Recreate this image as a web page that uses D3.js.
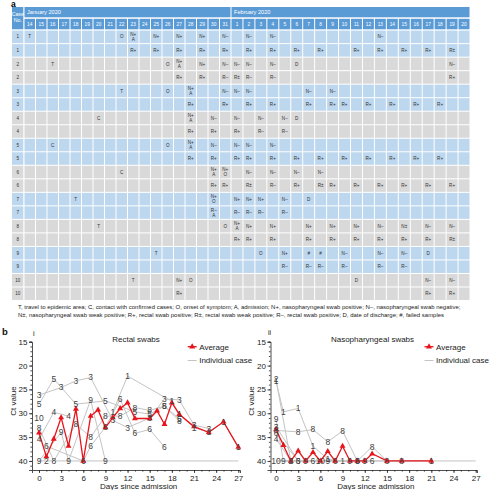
<!DOCTYPE html>
<html><head><meta charset="utf-8">
<script src="https://cdn.jsdelivr.net/npm/d3@7"></script>
<style>body{margin:0;background:#fff}svg{display:block;font-family:"Liberation Sans",Arial,sans-serif}</style>
</head><body><svg id="c" width="490" height="490"></svg>
<script>
// ---------- DATA ----------
const janDays = [14,15,16,17,18,19,20,21,22,23,24,25,26,27,28,29,30,31];
const febDays = [1,2,3,4,5,6,7,8,9,10,11,12,13,14,15,16,17,18,19,20];
const monthLabels = ["January 2020","February 2020"];
const caseRows = [1,1,2,2,3,3,4,4,5,5,6,6,7,7,8,8,9,9,10,10];
// [row, date, text]  (J = January, F = February; "|" = second line)
const cellMarks = [
 [0,"J14","T"],[0,"J22","O"],[0,"J23","N+|A"],[0,"J25","N+"],[0,"J27","N+"],[0,"J29","N+"],[0,"J31","N–"],[0,"F2","N–"],[0,"F4","N–"],[0,"F13","N–"],
 [1,"J23","R+"],[1,"J25","R+"],[1,"J27","R+"],[1,"J29","R+"],[1,"J31","R+"],[1,"F2","R+"],[1,"F4","R+"],[1,"F6","R+"],[1,"F8","R+"],[1,"F11","R+"],[1,"F13","R+"],[1,"F15","R+"],[1,"F17","R+"],[1,"F19","R±"],
 [2,"J16","T"],[2,"J26","O"],[2,"J27","N+|A"],[2,"J29","N+"],[2,"J31","N–"],[2,"F1","N–"],[2,"F2","N–"],[2,"F4","N–"],[2,"F6","D"],[2,"F19","N–"],
 [3,"J27","R+"],[3,"J29","R+"],[3,"J31","R–"],[3,"F1","R±"],[3,"F2","R–"],[3,"F4","R–"],[3,"F19","R+"],
 [4,"J22","T"],[4,"J26","O"],[4,"J28","N+|A"],[4,"J31","N–"],[4,"F1","N–"],[4,"F2","N–"],[4,"F7","N–"],[4,"F9","N–"],
 [5,"J28","R+"],[5,"J31","R+"],[5,"F2","R+"],[5,"F4","R+"],[5,"F7","R+"],[5,"F9","R+"],[5,"F10","R+"],[5,"F12","R+"],[5,"F14","R+"],[5,"F16","R+"],[5,"F18","R+"],
 [6,"J20","C"],[6,"J28","N+|A"],[6,"J30","N–"],[6,"F1","N–"],[6,"F3","N–"],[6,"F5","N–"],[6,"F6","D"],
 [7,"J28","R+"],[7,"J30","R+"],[7,"F1","R+"],[7,"F3","R–"],[7,"F5","R–"],
 [8,"J16","C"],[8,"J26","O"],[8,"J28","N+|A"],[8,"J30","N–"],[8,"F1","N–"],[8,"F2","N–"],[8,"F4","N–"],
 [9,"J28","R+"],[9,"J30","R+"],[9,"F1","R+"],[9,"F2","R+"],[9,"F4","R+"],[9,"F6","R+"],[9,"F8","R+"],[9,"F10","R+"],[9,"F12","R+"],[9,"F14","R+"],[9,"F16","R+"],[9,"F18","R+"],
 [10,"J22","C"],[10,"J30","N+|A"],[10,"J31","N+|O"],[10,"F2","N–"],[10,"F4","N–"],[10,"F6","N–"],[10,"F8","N–"],
 [11,"J30","R+"],[11,"J31","R+"],[11,"F2","R±"],[11,"F4","R–"],[11,"F6","R+"],[11,"F8","R±"],[11,"F9","R+"],[11,"F11","R+"],[11,"F13","R+"],[11,"F15","R+"],[11,"F17","R+"],[11,"F19","R+"],
 [12,"J18","T"],[12,"J30","N+|O"],[12,"F1","N+"],[12,"F2","N+"],[12,"F3","N+"],[12,"F5","N–"],[12,"F7","D"],
 [13,"J30","R–|A"],[13,"F1","R–"],[13,"F2","R–"],[13,"F3","R–"],[13,"F5","R–"],
 [14,"J20","T"],[14,"J31","O"],[14,"F1","N+|A"],[14,"F2","N+"],[14,"F4","N+"],[14,"F7","N+"],[14,"F9","N+"],[14,"F11","N+"],[14,"F13","N–"],[14,"F15","N±"],[14,"F17","N–"],[14,"F19","N–"],
 [15,"F1","R+"],[15,"F2","R+"],[15,"F4","R+"],[15,"F7","R+"],[15,"F9","R+"],[15,"F11","R+"],[15,"F13","R+"],[15,"F15","R+"],[15,"F17","R+"],[15,"F19","R±"],
 [16,"J25","T"],[16,"F3","O"],[16,"F5","N+"],[16,"F7","#"],[16,"F8","#"],[16,"F10","N–"],[16,"F13","N–"],[16,"F15","N–"],[16,"F17","D"],
 [17,"F5","R–"],[17,"F7","R–"],[17,"F8","R–"],[17,"F10","R–"],[17,"F13","R–"],[17,"F15","R–"],
 [18,"J23","T"],[18,"J27","N+"],[18,"J28","O"],[18,"F11","D"],[18,"F17","N–"],[18,"F19","N–"],
 [19,"J27","R+"],[19,"F17","R+"],[19,"F19","R+"]
];
const legendLines = [
 "T, travel to epidemic area; C, contact with confirmed cases; O, onset of symptom; A, admission; N+, nasopharyngeal swab positive; N–, nasopharyngeal swab negative;",
 "N±, nasopharyngeal swab weak positive; R+, rectal swab positive; R±, rectal swab weak positive; R–, rectal swab positive; D, date of discharge; #, failed samples"
];
// Rectal Ct values: [day, Ct] per case
const rectalCases = {
 1: [[10,29.7],[12,22.2],[18,27.5],[19,30.2],[21,33],[23,34],[25,31.8],[27,37.1]],
 2: [[1,40]],
 3: [[0,26.2],[3,24.6],[5,23.2],[7,22.5],[10,31.5],[12,33],[15,31],[17,27],[19,27.2],[21,32.5],[23,33.2]],
 4: [[0,35.5],[2,29.8],[4,30.6]],
 5: [[0,28.1],[2,22.8],[5,28.1],[9,27.4],[13,29.7],[15,30.2],[17,28.5],[19,31.2]],
 6: [[1,36.9],[6,40],[7,36.9],[9,32.9],[11,27.1],[13,34.2],[15,33.4],[17,37.1]],
 8: [[0,33],[2,40],[5,32.3],[7,35],[9,30.6],[11,30.6],[13,28.8],[15,29.4],[17,28.5],[19,31.6]],
 9: [[0,40],[3,34],[4,40],[7,27.2],[9,40]],
 10: [[0,31.1]]
};
const rectalAvgDays = [0,1,2,3,4,5,6,7,8,9,10,11,12,13,15,16,17,18,19,21,23,25,27];
const rectalAvgCt   = [34.1,39.1,35.4,30.9,36.9,29.1,40,30.6,29.3,33,30.9,29,27.8,31.1,31.1,29.5,32.3,27.8,30.2,32.8,34,31.8,37.1];
// Nasopharyngeal Ct values
const nasoCases = {
 1: [[0,23.3],[1,29.7],[3,29],[5,36.9],[7,39.6],[9,40],[21,40]],
 2: [[0,22.9],[2,40]],
 3: [[0,32.8],[3,40]],
 4: [[0,35.3],[2,40]],
 6: [[0,34.2],[3,40],[5,40],[8,40],[11,40],[13,40]],
 8: [[0,33.6],[3,33.9],[5,33.4],[7,36],[9,33.7],[11,40],[13,37],[15,40],[17,40]],
 9: [[0,31.3],[1,40],[4,40],[7,40],[10,40],[12,40]],
 10: [[0,40],[6,40]]
};
const nasoAvgDays = [0,1,2,3,4,5,6,7,8,9,10,11,12,13,15,17,21];
const nasoAvgCt   = [33.4,36.7,40,37.9,40,38.2,40,38,40,36.9,40,40,40,38.5,40,40,40];
const yTicks = [15,20,25,30,35,40];
const xTicks = [0,3,6,9,12,15,18,21,24,27];

// ---------- DRAW ----------
const svg = d3.select("#c");
const HEAD = "#5b9bd5", BLUE = "#bdd7ee", GRAY = "#d9d9d9", TXT = "#333";
const RED = "#e8141c", LINEGRAY = "#c4c4c4";

// Table
const colIndex = k => k[0]==="J" ? (+k.slice(1)) - 14 : 18 + (+k.slice(1)) - 1;
const col = d3.scaleLinear().domain([0,18,38]).range([24,231,470]);
const row = d3.scaleBand().domain(d3.range(caseRows.length)).range([30.6,301]);
const allDays = janDays.concat(febDays);

svg.append("text").attr("x",11).attr("y",7).attr("font-size",8.5).attr("font-weight","bold").text("a");

const tbl = svg.append("g");
tbl.append("rect").attr("x",12).attr("y",7).attr("width",11.3).attr("height",22.3).attr("fill",HEAD);
tbl.append("text").attr("x",17.8).attr("y",15.5).attr("font-size",5.2).attr("fill","#fff").attr("text-anchor","middle").text("Case");
tbl.append("text").attr("x",17.8).attr("y",22.3).attr("font-size",5.2).attr("fill","#fff").attr("text-anchor","middle").text("No.");
[[0,18],[18,38]].forEach((r,i)=>{
  tbl.append("rect").attr("x",col(r[0])+0.5).attr("y",7).attr("width",col(r[1])-col(r[0])-1).attr("height",10.3).attr("fill",HEAD);
  tbl.append("text").attr("x",col(r[0])+3).attr("y",14.2).attr("font-size",5.6).attr("fill","#fff").text(monthLabels[i]);
});
allDays.forEach((d,i)=>{
  tbl.append("rect").attr("x",col(i)+0.5).attr("y",18.8).attr("width",col(i+1)-col(i)-1).attr("height",10.5).attr("fill",HEAD);
  tbl.append("text").attr("x",(col(i)+col(i+1))/2).attr("y",25.8).attr("font-size",4.8).attr("fill","#fff").attr("text-anchor","middle").text(d);
});
caseRows.forEach((c,r)=>{
  const fill = c%2===1 ? BLUE : GRAY;
  const y0 = row(r), h = row.bandwidth()-1;
  tbl.append("rect").attr("x",12).attr("y",y0).attr("width",11.3).attr("height",h).attr("fill",fill);
  tbl.append("text").attr("x",17.8).attr("y",y0+h/2+1.6).attr("font-size",4.6).attr("fill",TXT).attr("text-anchor","middle").text(c);
  allDays.forEach((d,i)=>{
    tbl.append("rect").attr("x",col(i)+0.5).attr("y",y0).attr("width",col(i+1)-col(i)-1).attr("height",h).attr("fill",fill);
  });
});
cellMarks.forEach(([r,k,t])=>{
  const i = colIndex(k), cx = (col(i)+col(i+1))/2, cy = row(r)+(row.bandwidth()-1)/2;
  const parts = t.split("|");
  parts.forEach((p,j)=>{
    const yy = parts.length===1 ? cy+1.6 : cy - 1.1 + j*5;
    tbl.append("text").attr("x",cx).attr("y",yy).attr("font-size",4.6).attr("fill",TXT).attr("text-anchor","middle").text(p);
  });
});

// Legend text under table
const lg = svg.append("g").attr("fill","#222");
const l1 = lg.append("text").attr("x",18).attr("y",308.6).attr("font-size",6).text(legendLines[0]);
const w1 = l1.node().getComputedTextLength();
const fs = 6*443/w1;
l1.attr("font-size",fs);
lg.append("text").attr("x",18).attr("y",316.8).attr("font-size",fs).text(legendLines[1]);

svg.append("text").attr("x",2).attr("y",335).attr("font-size",9.5).attr("font-weight","bold").attr("fill","#111").text("b");
svg.append("text").attr("x",33).attr("y",336).attr("font-size",7).attr("fill","#111").text("i");
svg.append("text").attr("x",268).attr("y",335).attr("font-size",7).attr("fill","#111").text("ii");

function chart(o){
  const g = svg.append("g");
  const per = (o.x27 - o.x0)/27;
  const x = d3.scaleLinear().domain([(o.axisX-o.x0)/per, (o.axisEnd-o.x0)/per]).range([o.axisX,o.axisEnd]);
  const y = d3.scaleLinear().domain([15,41.9]).range([341.7,470]);
  g.append("g").attr("transform",`translate(${o.axisX},0)`)
    .call(d3.axisLeft(y).tickValues(yTicks).tickSize(3).tickPadding(1.5));
  g.append("g").attr("transform",`translate(${o.axisX},0)`)
    .call(d3.axisLeft(y).tickValues(d3.range(15,42)).tickSize(1.6).tickFormat("")).select(".domain").remove();
  g.append("g").attr("transform","translate(0,470)")
    .call(d3.axisBottom(x).tickValues(xTicks).tickSize(3).tickPadding(2));
  g.append("g").attr("transform","translate(0,470)")
    .call(d3.axisBottom(x).tickValues(d3.range(0,28)).tickSize(1.6).tickFormat("")).select(".domain").remove();
  g.selectAll(".tick text").attr("font-size",8).attr("fill","#222").attr("font-family",null);
  g.selectAll(".domain,.tick line").attr("stroke","#222").attr("stroke-width",0.8);
  g.append("text").attr("x",(o.x0+o.x27)/2).attr("y",488.5).attr("font-size",8).attr("fill","#222").attr("text-anchor","middle").text("Days since admission");
  g.append("text").attr("transform",`translate(${o.labX},401) rotate(-90)`).attr("font-size",8).attr("fill","#222").attr("text-anchor","middle").text("Ct value");
  g.append("text").attr("x",o.titleX).attr("y",342).attr("font-size",8).attr("fill","#222").attr("text-anchor","middle").text(o.title);
  const line = d3.line().x(d=>x(d[0])).y(d=>y(d[1]));
  g.append("path").attr("d",line([[0,40],[27,40]])).attr("fill","none").attr("stroke",LINEGRAY).attr("stroke-width",1);
  const keys = Object.keys(o.cases);
  keys.forEach(k=>{
    g.append("path").attr("d",line(o.cases[k])).attr("fill","none").attr("stroke",LINEGRAY).attr("stroke-width",1);
  });
  const avg = o.avgDays.map((d,i)=>[d,o.avgCt[i]]);
  g.append("path").attr("d",line(avg)).attr("fill","none").attr("stroke",RED).attr("stroke-width",1.3);
  const tri = d3.symbol().type(d3.symbolTriangle).size(15);
  g.selectAll(null).data(avg).join("path").attr("d",tri)
    .attr("transform",d=>`translate(${x(d[0])},${y(d[1])})`).attr("fill",RED);
  keys.forEach(k=>{
    g.selectAll(null).data(o.cases[k]).join("text")
      .attr("x",d=>x(d[0])).attr("y",d=>y(d[1])+3)
      .attr("font-size",8.5).attr("fill","#444").attr("text-anchor","middle").text(k);
  });
  const lx = o.legX;
  g.append("line").attr("x1",lx).attr("x2",lx+9).attr("y1",346.7).attr("y2",346.7).attr("stroke",RED).attr("stroke-width",1.3);
  g.append("path").attr("d",tri).attr("transform",`translate(${lx+4.5},346.7)`).attr("fill",RED);
  g.append("text").attr("x",lx+11.5).attr("y",349.5).attr("font-size",8).attr("fill","#222").text("Average");
  g.append("line").attr("x1",lx).attr("x2",lx+9).attr("y1",360.5).attr("y2",360.5).attr("stroke",LINEGRAY).attr("stroke-width",1);
  g.append("text").attr("x",lx+11.5).attr("y",363.3).attr("font-size",8).attr("fill","#222").text("Individual case");
}
chart({x0:39,x27:238.3,axisX:32,axisEnd:240,labX:16,titleX:136,title:"Rectal swabs",legX:187.7,
  cases:rectalCases,avgDays:rectalAvgDays,avgCt:rectalAvgCt});
chart({x0:276,x27:475.7,axisX:270.5,axisEnd:477,labX:254,titleX:372.5,title:"Nasopharyngeal swabs",legX:424.5,
  cases:nasoCases,avgDays:nasoAvgDays,avgCt:nasoAvgCt});
</script></body></html>
